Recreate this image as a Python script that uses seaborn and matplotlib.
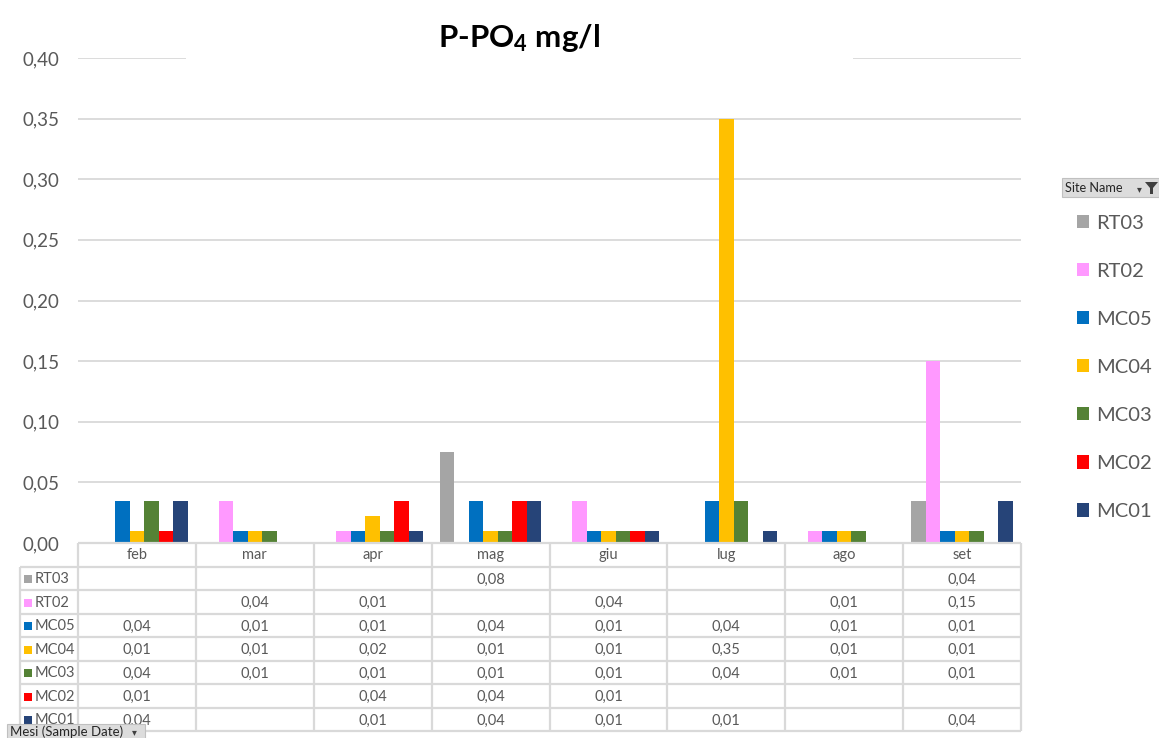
import numpy as np
import pandas as pd
import matplotlib
matplotlib.use("Agg")
import matplotlib.pyplot as plt
from matplotlib.patches import Rectangle, Polygon
from matplotlib.ticker import FuncFormatter, MultipleLocator
import seaborn as sns
from decimal import Decimal, ROUND_HALF_UP

# --- data: P-PO4 (mg/l) by month and sampling site ---
months = ["feb", "mar", "apr", "mag", "giu", "lug", "ago", "set"]
sites = ["RT03", "RT02", "MC05", "MC04", "MC03", "MC02", "MC01"]
nan = np.nan
rt03 = [nan, nan, nan, 0.075, nan, nan, nan, 0.035]
rt02 = [nan, 0.035, 0.01, nan, 0.035, nan, 0.01, 0.15]
mc05 = [0.035, 0.01, 0.01, 0.035, 0.01, 0.035, 0.01, 0.01]
mc04 = [0.01, 0.01, 0.022, 0.01, 0.01, 0.35, 0.01, 0.01]
mc03 = [0.035, 0.01, 0.01, 0.01, 0.01, 0.035, 0.01, 0.01]
mc02 = [0.01, nan, 0.035, 0.035, 0.01, nan, nan, nan]
mc01 = [0.035, nan, 0.01, 0.035, 0.01, 0.01, nan, 0.035]
site_colors = ["#A5A5A5", "#FF99FF", "#0070C0", "#FFC000", "#548235", "#FF0000", "#264478"]

series = dict(zip(sites, [rt03, rt02, mc05, mc04, mc03, mc02, mc01]))
df = pd.DataFrame(
    [(m, s, v) for s in sites for m, v in zip(months, series[s])],
    columns=["month", "site", "value"],
)

sns.set_theme(style="white")
plt.rcParams["font.family"] = ["Lato", "DejaVu Sans"]
plt.rcParams["mathtext.fontset"] = "custom"
plt.rcParams["mathtext.rm"] = "Lato"
plt.rcParams["mathtext.bf"] = "Lato:bold"
plt.rcParams["mathtext.default"] = "bf"

W, H = 1159, 738
TXT = "#595959"
GRID = "#D9D9D9"


def frect(x0, y0, x1, y1):
    return [x0 / W, 1 - y1 / H, (x1 - x0) / W, (y1 - y0) / H]


def fx(x):
    return x / W


def fy(y):
    return 1 - y / H


def fmt_it(v):
    d = Decimal(str(v)).quantize(Decimal("0.01"), rounding=ROUND_HALF_UP)
    return str(d).replace(".", ",")


fig = plt.figure(figsize=(W / 100, H / 100), dpi=100)
fig.patch.set_facecolor("white")

# --- bar chart ---
ax = fig.add_axes(frect(78, 58, 1021, 543))
sns.barplot(
    data=df, x="month", y="value", hue="site",
    order=months, hue_order=sites, palette=site_colors,
    width=0.86, saturation=1, errorbar=None, linewidth=0,
    ax=ax, legend=True,
)
ax.set_xlim(-0.5, 7.5)
ax.set_ylim(0, 0.40)
ax.yaxis.set_major_locator(MultipleLocator(0.05))
ax.yaxis.set_major_formatter(FuncFormatter(lambda v, _: f"{v:.2f}".replace(".", ",")))
ax.grid(axis="y", color=GRID, lw=1.3)
ax.grid(axis="x", visible=False)
ax.set_axisbelow(True)
ax.tick_params(axis="y", length=0, pad=13.5, labelsize=13.5, labelcolor=TXT)
ax.tick_params(axis="x", bottom=False, labelbottom=False)
ax.set_xlabel("")
ax.set_ylabel("")
for sp in ax.spines.values():
    sp.set_visible(False)

handles, labels = ax.get_legend_handles_labels()
ax.legend(
    handles, labels, loc="upper left",
    bbox_to_anchor=(fx(1077), fy(215)), bbox_transform=fig.transFigure,
    frameon=False, fontsize=14.5, labelcolor=TXT,
    handlelength=0.62, handleheight=0.62, handletextpad=0.35, labelspacing=1.54,
    borderpad=0, borderaxespad=0,
)

# --- data table under the chart ---
tax = fig.add_axes(frect(20, 543, 1021, 731))
unit = (1021 - 78) / 8.0
left = -0.5 - (78 - 20) / unit
tax.set_xlim(left, 7.5)
tax.set_ylim(8, 0)
tax.axis("off")
lw_t = 1.6
tax.hlines(0, -0.5, 7.5, color=GRID, lw=lw_t, clip_on=False)
for r in range(1, 9):
    tax.hlines(r, left, 7.5, color=GRID, lw=lw_t, clip_on=False)
for k in range(9):
    tax.vlines(-0.5 + k, 0, 8, color=GRID, lw=lw_t, clip_on=False)
tax.vlines(left, 1, 8, color=GRID, lw=lw_t, clip_on=False)

for j, m in enumerate(months):
    tax.text(j, 0.5, m, ha="center", va="center", fontsize=10.5, color=TXT)
for i, s in enumerate(sites):
    yy = i + 1.55
    tax.scatter([left + 8 / unit], [yy], marker="s", s=30, color=site_colors[i],
                linewidths=0, clip_on=False)
    tax.text(left + 15 / unit, yy, s, ha="left", va="center", fontsize=10.5, color=TXT)
    for j, v in enumerate(series[s]):
        if not np.isnan(v):
            tax.text(j, yy, fmt_it(v), ha="center", va="center", fontsize=10.5, color=TXT)

# --- title, interrupting the top gridline ---
fig.add_artist(Rectangle((fx(186), fy(66)), fx(853) - fx(186), fy(50) - fy(66),
                         transform=fig.transFigure, facecolor="white",
                         edgecolor="none", zorder=3))
fig.text(fx(519), fy(38), "P-PO$_4$ mg/l", ha="center", va="center",
         fontsize=22.5, fontweight="bold", color="black", zorder=4)

# --- pivot field buttons ---
fig.add_artist(Rectangle((fx(1062), fy(197)), fx(1159) - fx(1062), fy(178) - fy(197),
                         transform=fig.transFigure, facecolor="#DCDCDC",
                         edgecolor="#C0C0C0", lw=0.8, zorder=3))
fig.text(fx(1065), fy(188), "Site Name", ha="left", va="center",
         fontsize=9.2, color="#262626", zorder=4)
fig.text(fx(1139), fy(189), "▾", ha="center", va="center",
         fontsize=7, color="#404040", zorder=4, family="DejaVu Sans")
fig.add_artist(Polygon(
    [(fx(1145), fy(182)), (fx(1158), fy(182)), (fx(1153), fy(188)),
     (fx(1153), fy(194)), (fx(1150), fy(194)), (fx(1150), fy(188))],
    closed=True, transform=fig.transFigure, facecolor="#404040",
    edgecolor="none", zorder=4))

fig.add_artist(Rectangle((fx(7), fy(740)), fx(145) - fx(7), fy(724) - fy(740),
                         transform=fig.transFigure, facecolor="#DCDCDC",
                         edgecolor="#C0C0C0", lw=0.8, zorder=3))
fig.text(fx(10), fy(732), "Mesi (Sample Date)", ha="left", va="center",
         fontsize=9.5, color="#262626", zorder=4)
fig.text(fx(134), fy(732), "▾", ha="center", va="center",
         fontsize=7, color="#404040", zorder=4, family="DejaVu Sans")

fig.savefig("out.png", dpi=100)
